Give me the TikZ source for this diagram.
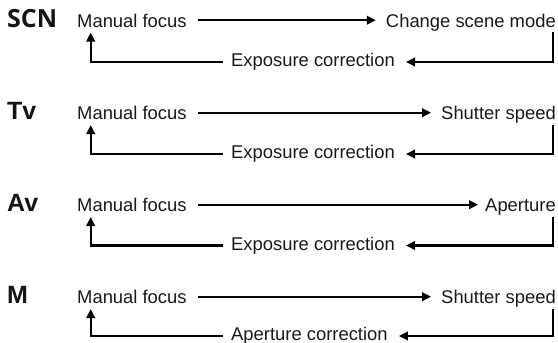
\documentclass[tikz,border=0pt]{standalone}
\usepackage{fontspec}
\setmainfont{Liberation Sans}
\newfontfamily\scnfont{Open Sans}
\usetikzlibrary{arrows.meta}
\begin{document}
\begin{tikzpicture}[x=1pt,y=-1pt,
  txt/.style={font=\fontsize{18.4}{20}\selectfont, text=black!90, inner sep=0pt},
  mode/.style={font=\fontsize{25}{27}\selectfont\bfseries, text=black!92, inner sep=0pt, anchor=base west},
  conn/.style={line width=2.1pt, -{Triangle[length=9pt,width=8.5pt]}}]
\useasboundingbox (0,0) rectangle (558,343);
\foreach \i/\b/\r/\lab/\tgt/\back/\gap in {
  1/27/62/{\scnfont SCN}/Change scene mode/Exposure correction/10,
  2/119.5/154/Tv/Shutter speed/Exposure correction/10,
  3/211.5/245.5/Av/Aperture/Exposure correction/7,
  4/303.5/336/M/Shutter speed/Aperture correction/10}{
  \node[mode] (lab\i) at (7,\b) {\lab};
  \node[txt,anchor=base west] (mf\i) at (77,\b) {Manual focus};
  \node[txt,anchor=base east] (tg\i) at (556,\b) {\tgt};
  \node[txt,anchor=base west] (ec\i) at (231,{\r+4.5}) {\back};
  \draw[conn] ([shift={(11,-6.8)}]mf\i.base east) -- ([shift={(-\gap,-6.8)}]tg\i.base west);
  \draw[conn] ([shift={(-3,5)}]tg\i.base east) |- ([shift={(11,-4.5)}]ec\i.base east);
  \draw[conn] ([shift={(-8,-4.5)}]ec\i.base west) -| ([shift={(13.7,5.5)}]mf\i.base west);
}
\end{tikzpicture}
\end{document}
